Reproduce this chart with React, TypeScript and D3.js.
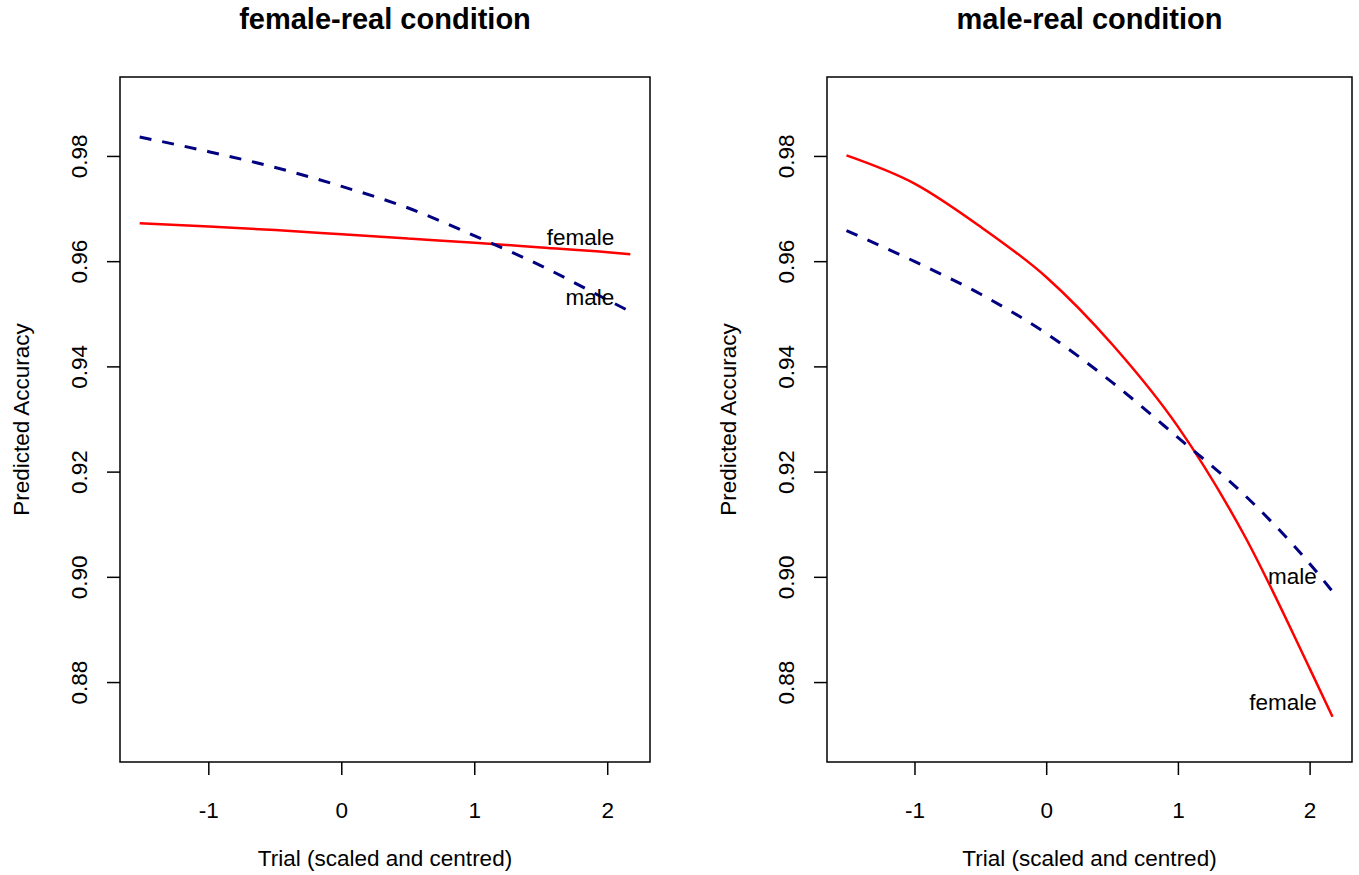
import React, { Component } from "react";
import * as d3 from "d3";

const trialX = [-1.52, -1, -0.5, 0, 0.5, 1, 1.5, 2, 2.17];

// female-real condition
const femaleRealFemale = [0.9673, 0.9667, 0.966, 0.9652, 0.9644, 0.9636, 0.9627, 0.9618, 0.9614];
const femaleRealMale = [0.9837, 0.9809, 0.9779, 0.9743, 0.9702, 0.9649, 0.9592, 0.9527, 0.9505];

// male-real condition
const maleRealFemale = [0.9802, 0.9748, 0.9666, 0.957, 0.9442, 0.9285, 0.908, 0.8825, 0.8735];
const maleRealMale = [0.9659, 0.96, 0.9538, 0.9463, 0.937, 0.9265, 0.9157, 0.9025, 0.8973];

// Axis ticks
const xTicks = [-1, 0, 1, 2];
const yTicks = [0.88, 0.9, 0.92, 0.94, 0.96, 0.98];

// Curve labels: [text, x, y]
const femaleRealLabels: [string, number, number][] = [
  ["female", 2.05, 0.9645],
  ["male", 2.05, 0.9531],
];
const maleRealLabels: [string, number, number][] = [
  ["male", 2.05, 0.9001],
  ["female", 2.05, 0.8763],
];

const panels = [
  { title: "female-real condition", female: femaleRealFemale, male: femaleRealMale, labels: femaleRealLabels, left: 120, right: 650 },
  { title: "male-real condition", female: maleRealFemale, male: maleRealMale, labels: maleRealLabels, left: 827, right: 1352 },
];

class App extends Component {
  svgRef = React.createRef<SVGSVGElement>();

  /** Style variables. */
  font = "'Liberation Sans', Arial, sans-serif";
  fontSize = 22.5;
  colorFemale = "#ff0000";
  colorMale = "#000080";
  top = 77;
  bottom = 762;

  componentDidMount() {
    this.drawChart();
  }

  drawChart() {
    const svg = d3.select(this.svgRef.current);
    svg.selectAll("*").remove();

    panels.forEach((p) => {
      const g = svg.append("g");

      const x = d3.scaleLinear().domain([-1.668, 2.318]).range([p.left, p.right]);
      const y = d3.scaleLinear().domain([0.8649, 0.9951]).range([this.bottom, this.top]);
      const mid = (p.left + p.right) / 2;

      // Plot box
      g.append("rect")
        .attr("x", p.left)
        .attr("y", this.top)
        .attr("width", p.right - p.left)
        .attr("height", this.bottom - this.top)
        .attr("fill", "none")
        .attr("stroke", "black")
        .attr("stroke-width", 1.5);

      // X axis ticks and labels
      xTicks.forEach((t) => {
        g.append("line")
          .attr("x1", x(t))
          .attr("x2", x(t))
          .attr("y1", this.bottom)
          .attr("y2", this.bottom + 13)
          .attr("stroke", "black")
          .attr("stroke-width", 1.5);
        g.append("text")
          .attr("x", x(t))
          .attr("y", this.bottom + 56)
          .attr("text-anchor", "middle")
          .attr("font-family", this.font)
          .attr("font-size", this.fontSize)
          .text(String(t));
      });

      // Y axis ticks and rotated labels
      yTicks.forEach((t) => {
        g.append("line")
          .attr("x1", p.left - 13)
          .attr("x2", p.left)
          .attr("y1", y(t))
          .attr("y2", y(t))
          .attr("stroke", "black")
          .attr("stroke-width", 1.5);
        g.append("text")
          .attr("transform", `translate(${p.left - 33}, ${y(t)}) rotate(-90)`)
          .attr("text-anchor", "middle")
          .attr("font-family", this.font)
          .attr("font-size", this.fontSize)
          .text(t.toFixed(2));
      });

      // Lines
      const line = d3
        .line<number>()
        .x((d, i) => x(trialX[i]))
        .y((d) => y(d))
        .curve(d3.curveMonotoneX);

      g.append("path")
        .attr("d", line(p.female))
        .attr("fill", "none")
        .attr("stroke", this.colorFemale)
        .attr("stroke-width", 2.5);

      g.append("path")
        .attr("d", line(p.male))
        .attr("fill", "none")
        .attr("stroke", this.colorMale)
        .attr("stroke-width", 3)
        .attr("stroke-dasharray", "12,11");

      // Curve labels
      p.labels.forEach(([label, lx, ly]) => {
        g.append("text")
          .attr("x", x(lx))
          .attr("y", y(ly))
          .attr("text-anchor", "end")
          .attr("dominant-baseline", "central")
          .attr("font-family", this.font)
          .attr("font-size", this.fontSize)
          .text(label);
      });

      // Titles
      g.append("text")
        .attr("x", mid)
        .attr("y", 29)
        .attr("text-anchor", "middle")
        .attr("font-family", this.font)
        .attr("font-size", 29)
        .attr("font-weight", "bold")
        .text(p.title);

      g.append("text")
        .attr("x", mid)
        .attr("y", 866)
        .attr("text-anchor", "middle")
        .attr("font-family", this.font)
        .attr("font-size", this.fontSize)
        .text("Trial (scaled and centred)");

      g.append("text")
        .attr("transform", `translate(${p.left - 91}, ${(this.top + this.bottom) / 2}) rotate(-90)`)
        .attr("text-anchor", "middle")
        .attr("font-family", this.font)
        .attr("font-size", this.fontSize)
        .text("Predicted Accuracy");
    });
  }

  render() {
    return (
      <svg
        ref={this.svgRef}
        width={1359}
        height={875}
        style={{ position: "absolute", left: 0, top: 0, background: "white" }}
      ></svg>
    );
  }
}

export default App;
